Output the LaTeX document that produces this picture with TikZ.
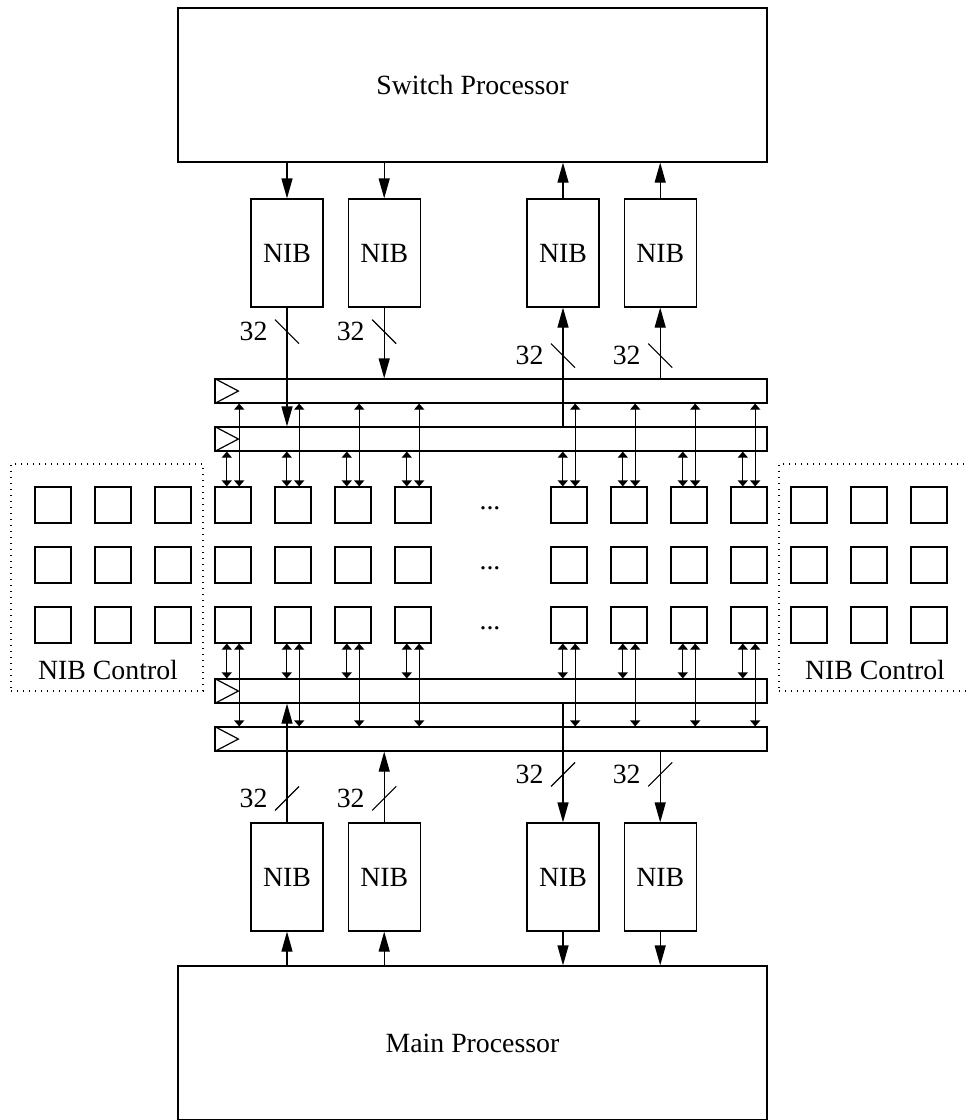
\documentclass[tikz,border=0pt]{standalone}
\usepackage{fontspec}
\setmainfont{Liberation Serif}
\usetikzlibrary{arrows.meta,positioning,calc}
\newcommand{\bigfont}{\fontsize{13.9}{16}\selectfont}
\tikzset{
  proc/.style ={draw, minimum width=294.5pt, minimum height=77pt, font=\bigfont},
  nib/.style  ={draw, minimum width=36pt, minimum height=54pt, font=\bigfont},
  cell/.style ={draw, minimum size=18pt, inner sep=0pt},
  bus/.style  ={draw, minimum width=276pt, minimum height=12pt, inner sep=0pt},
  ctrl/.style ={draw, dash pattern=on 0.6pt off 2.4pt, minimum width=96pt,
                minimum height=113.5pt},
  flow/.style ={-{Triangle[length=10pt,width=5.5pt]}},
  dflow/.style={{Triangle[length=3pt,width=5pt]}-{Triangle[length=3pt,width=5pt]}},
  lbl/.style  ={font=\bigfont, inner sep=1pt},
}

\begin{document}
\begin{tikzpicture}[x=0.5pt, y=-0.5pt, line width=0.6pt]
\useasboundingbox (0,0) rectangle (965,1120);

% ---- processors and NIBs ---------------------------------------------
\node[proc] (sw) at (472.5,85) {Switch Processor};
\node[proc] (mp) at (472.5,1043) {Main Processor};

\node[nib] (nt1) at (287,253) {NIB};
\node[nib, right=12pt of nt1] (nt2) {NIB};
\node[nib] (nt3) at (563,253) {NIB};
\node[nib, right=12pt of nt3] (nt4) {NIB};

\node[nib] (nb1) at (287,877) {NIB};
\node[nib, right=12pt of nb1] (nb2) {NIB};
\node[nib] (nb3) at (563,877) {NIB};
\node[nib, right=12pt of nb3] (nb4) {NIB};

% ---- buses -------------------------------------------------------------
\node[bus] (b1) at (491,391) {};
\node[bus] (b2) at (491,439) {};
\node[bus] (b3) at (491,691) {};
\node[bus] (b4) at (491,739) {};
\foreach \b in {b1,b2,b3,b4}
  \draw (\b.north west) -- ($(\b.west)+(12pt,0pt)$) -- (\b.south west);

% ---- tile array ------------------------------------------------------
\foreach \y [count=\j] in {505,565,625}{
  \foreach \x [count=\i] in {233,293,353,413,569,629,689,749}
    \node[cell] (c\j-\i) at (\x,\y) {};
  \node[lbl] (dots\j) at (490,\y+3) {...};
}

\foreach \i in {1,...,8}{
  \draw[dflow] ($(c1-\i.north west)!1/3!(c1-\i.north east)$) coordinate (u)
    -- (u |- b2.south);
  \draw[dflow] ($(c1-\i.north west)!2/3!(c1-\i.north east)$) coordinate (u)
    -- (u |- b1.south);
  \draw[dflow] ($(c3-\i.south west)!1/3!(c3-\i.south east)$) coordinate (u)
    -- (u |- b3.north);
  \draw[dflow] ($(c3-\i.south west)!2/3!(c3-\i.south east)$) coordinate (u)
    -- (u |- b4.north);
}

% ---- NIB control -----------------------------------------------------
\node[ctrl] (lctrl) at (107,577.5) {};
\node[ctrl] (rctrl) at (875,577.5) {};
\foreach \y [count=\j] in {505,565,625}{
  \foreach \x [count=\i] in {53,113,173}
    \node[cell] (l\j-\i) at (\x,\y) {};
  \foreach \x [count=\i] in {809,869,929}
    \node[cell] (r\j-\i) at (\x,\y) {};
}
\node[lbl] (lctrllbl) at (108,670) {NIB Control};
\node[lbl] (rctrllbl) at (875,670) {NIB Control};

% ---- connections -----------------------------------------------------
\draw[flow] (sw.south -| nt1) -- (nt1.north);
\draw[flow] (sw.south -| nt2) -- (nt2.north);
\draw[flow] (nt3.north) -- (sw.south -| nt3);
\draw[flow] (nt4.north) -- (sw.south -| nt4);

\draw[flow] (nt1.south) -- (nt1.south |- b2.north);
\draw[flow] (nt2.south) -- (nt2.south |- b1.north);
\draw[flow] (nt3.south |- b2.north) -- (nt3.south);
\draw[flow] (nt4.south |- b1.north) -- (nt4.south);

\draw[flow] (nb1.north) -- (nb1.north |- b3.south);
\draw[flow] (nb2.north) -- (nb2.north |- b4.south);
\draw[flow] (nb3.north |- b3.south) -- (nb3.north);
\draw[flow] (nb4.north |- b4.south) -- (nb4.north);

\draw[flow] (mp.north -| nb1) -- (nb1.south);
\draw[flow] (mp.north -| nb2) -- (nb2.south);
\draw[flow] (nb3.south) -- (mp.north -| nb3);
\draw[flow] (nb4.south) -- (mp.north -| nb4);

% ---- bus widths ------------------------------------------------------
\path (nt1.south) ++(0pt,-12pt) coordinate (s1);
\path (nt2.south) ++(0pt,-12pt) coordinate (s2);
\path (nt3.south) ++(0pt,-24pt) coordinate (s3);
\path (nt4.south) ++(0pt,-24pt) coordinate (s4);
\foreach \s in {s1,s2,s3,s4}{
  \draw (\s) ++(-6pt,6pt) -- ++(12pt,-12pt);
  \node[lbl, left=8.5pt of \s] (w\s) {32};
}
\path (nb1.north) ++(0pt,12pt) coordinate (s5);
\path (nb2.north) ++(0pt,12pt) coordinate (s6);
\path (nb3.north) ++(0pt,24pt) coordinate (s7);
\path (nb4.north) ++(0pt,24pt) coordinate (s8);
\foreach \s in {s5,s6,s7,s8}{
  \draw (\s) ++(-6pt,-6pt) -- ++(12pt,12pt);
  \node[lbl, left=8.5pt of \s] (w\s) {32};
}

\end{tikzpicture}
\end{document}
